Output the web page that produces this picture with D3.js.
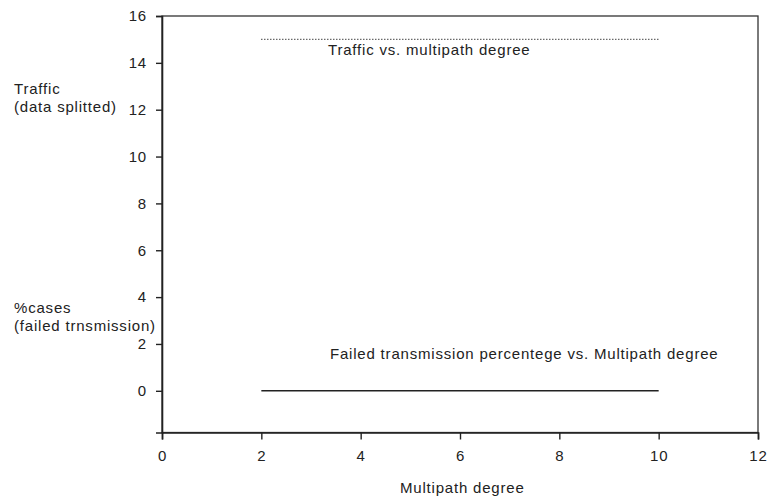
<!DOCTYPE html>
<html><head><meta charset="utf-8">
<script src="https://cdn.jsdelivr.net/npm/d3@7"></script>
<style>body{margin:0;background:#fff}text{font-family:"Liberation Sans",Arial,sans-serif}</style>
</head><body><svg id="c" width="767" height="499"></svg>
<script>
const multipathDegree = [2, 4, 6, 8, 10];
const trafficValues = [15, 15, 15, 15, 15];
const failedPercent = [0, 0, 0, 0, 0];
const xTicks = [0, 2, 4, 6, 8, 10, 12];
const yTicks = [0, 2, 4, 6, 8, 10, 12, 14, 16];

const svg = d3.select("#c");
const x = d3.scaleLinear().domain([0, 12]).range([162, 758]);
const y = d3.scaleLinear().domain([-1.78, 16]).range([432.5, 16]);
const col = "#222";
const FS = "15px", LS = "0.8px";

// frame
svg.append("rect").attr("x", x(0)).attr("y", y(16)).attr("width", x(12) - x(0)).attr("height", y(-1.78) - y(16))
  .attr("fill", "none").attr("stroke", "#333").attr("stroke-width", 1.3);

const yAxis = svg.append("g").attr("transform", `translate(${x(0)},0)`)
  .call(d3.axisLeft(y).tickValues(yTicks).tickSize(6).tickPadding(9).tickFormat(d3.format("d")));
const xAxis = svg.append("g").attr("transform", `translate(0,${y(-1.78)})`)
  .call(d3.axisBottom(x).tickValues(xTicks).tickSize(7).tickPadding(11).tickFormat(d3.format("d")));
[yAxis, xAxis].forEach(g => {
  g.select(".domain").attr("stroke", col).attr("stroke-width", 1.6);
  g.selectAll(".tick line").attr("stroke", col).attr("stroke-width", 1.4);
  g.selectAll(".tick text").attr("fill", "#222").style("font-size", FS).style("letter-spacing", LS)
    .style("font-family", "'Liberation Sans',Arial,sans-serif");
});

const line = d3.line().x(d => x(d[0])).y(d => y(d[1]));
svg.append("path").datum(multipathDegree.map((m, i) => [m, trafficValues[i]]))
  .attr("d", line).attr("fill", "none").attr("stroke", "#222").attr("stroke-width", 1.3).attr("stroke-dasharray", "1,2");
svg.append("path").datum(multipathDegree.map((m, i) => [m, failedPercent[i]]))
  .attr("d", line).attr("fill", "none").attr("stroke", "#222").attr("stroke-width", 1.6);

const t = (tx, ty, s, anchor) => svg.append("text").attr("x", tx).attr("y", ty).text(s)
  .attr("fill", "#222").style("font-size", FS).style("letter-spacing", LS).attr("text-anchor", anchor || "start");
t(328, 55, "Traffic vs. multipath degree");
t(330, 359, "Failed transmission percentege vs. Multipath degree");
t(14, 94, "Traffic");
t(14, 112, "(data splitted)");
t(14, 313, "%cases");
t(14, 331, "(failed trnsmission)");
t(400, 493, "Multipath degree");
</script></body></html>
